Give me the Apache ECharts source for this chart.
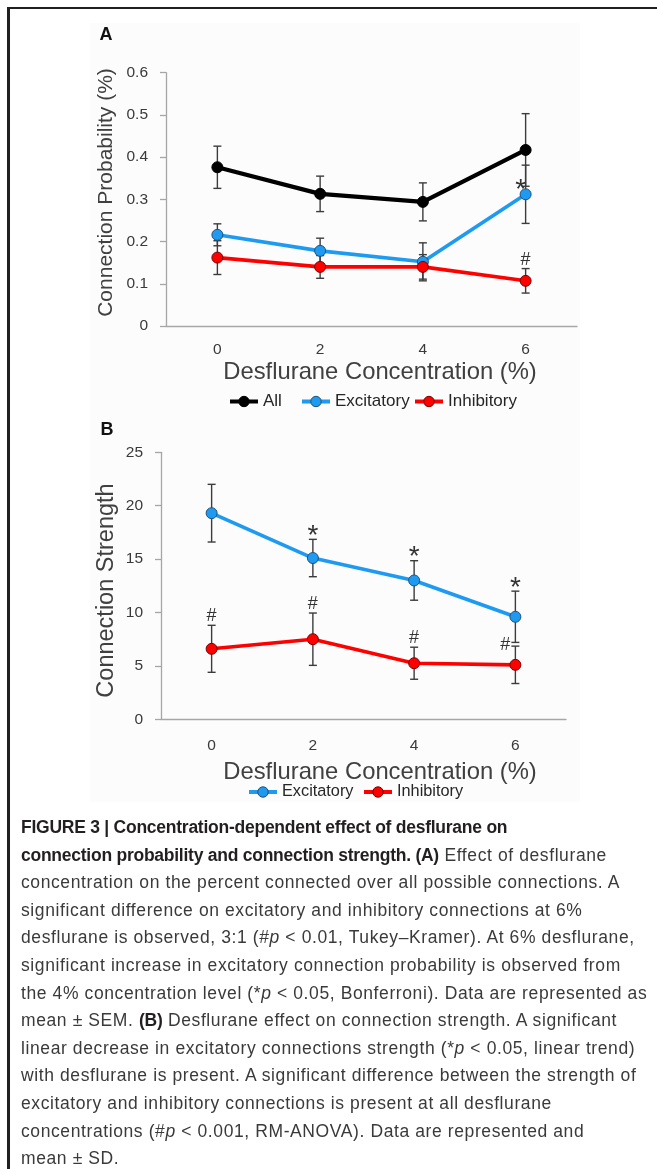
<!DOCTYPE html>
<html>
<head>
<meta charset="utf-8">
<script src="https://cdn.jsdelivr.net/npm/echarts@6/dist/echarts.min.js"></script>
<style>
html,body{margin:0;padding:0;background:#fff;}
#wrap{position:relative;width:657px;height:1172px;overflow:hidden;background:#fff;}
#panelBg{position:absolute;left:90px;top:23px;width:490px;height:779px;background:#fcfcfc;}
#chart{position:absolute;left:0;top:0;width:657px;height:820px;}
#frameTop{position:absolute;left:7px;top:6.7px;width:650px;height:2.4px;background:#231f20;}
#frameLeft{position:absolute;left:7.3px;top:6.7px;width:2.5px;height:1162px;background:#231f20;}
#caption{position:absolute;left:21px;top:814px;font-family:'Liberation Sans',Arial,sans-serif;font-size:17.5px;line-height:27.6px;color:#3a3a3a;white-space:nowrap;letter-spacing:0.6px;}
#caption b{color:#231f20;letter-spacing:-0.25px;}
</style>
</head>
<body>
<div id="wrap">
  <div id="panelBg"></div>
  <div id="chart"></div>
  <div id="frameTop"></div>
  <div id="frameLeft"></div>
  <div id="caption">
    <div><b>FIGURE 3 | Concentration-dependent effect of desflurane on</b></div>
    <div><b>connection probability and connection strength. (A)</b> Effect of desflurane</div>
    <div>concentration on the percent connected over all possible connections. A</div>
    <div>significant difference on excitatory and inhibitory connections at 6%</div>
    <div>desflurane is observed, 3:1 (#<i>p</i> &lt; 0.01, Tukey–Kramer). At 6% desflurane,</div>
    <div>significant increase in excitatory connection probability is observed from</div>
    <div>the 4% concentration level (*<i>p</i> &lt; 0.05, Bonferroni). Data are represented as</div>
    <div>mean ± SEM. <b>(B)</b> Desflurane effect on connection strength. A significant</div>
    <div>linear decrease in excitatory connections strength (*<i>p</i> &lt; 0.05, linear trend)</div>
    <div>with desflurane is present. A significant difference between the strength of</div>
    <div>excitatory and inhibitory connections is present at all desflurane</div>
    <div>concentrations (#<i>p</i> &lt; 0.001, RM-ANOVA). Data are represented and</div>
    <div>mean ± SD.</div>
  </div>
</div>
<script>
// ---- Data ----
const concentrations = ['0', '2', '4', '6'];

// Panel A: connection probability (%), mean and SEM
const probAll = [0.376, 0.313, 0.294, 0.417];
const probAllErr = [0.050, 0.042, 0.045, 0.086];
const probExc = [0.216, 0.178, 0.152, 0.312];
const probExcErr = [0.026, 0.030, 0.045, 0.069];
const probInh = [0.162, 0.140, 0.140, 0.107];
const probInhErr = [0.040, 0.027, 0.029, 0.029];
const probTicks = [0, 0.1, 0.2, 0.3, 0.4, 0.5, 0.6];

// Panel B: connection strength, mean and SD
const strExc = [19.3, 15.1, 13.0, 9.6];
const strExcErr = [2.7, 1.75, 1.85, 2.4];
const strInh = [6.6, 7.5, 5.25, 5.1];
const strInhErr = [2.2, 2.45, 1.5, 1.75];
const strTicks = [0, 5, 10, 15, 20, 25];

// Significance marks: [category, series, mark]
const marksA = [['6', 'Excitatory', '*'], ['6', 'Inhibitory', '#']];
const marksB = [['2', 'Excitatory', '*'], ['4', 'Excitatory', '*'], ['6', 'Excitatory', '*'],
                ['0', 'Inhibitory', '#'], ['2', 'Inhibitory', '#'], ['4', 'Inhibitory', '#'], ['6', 'Inhibitory', '#']];

// ---- Styling ----
const FONT = "'Liberation Sans', Arial, sans-serif";
const COLORS = { All: '#000000', Excitatory: '#1e9bf0', Inhibitory: '#ff0000' };
const BORDERS = { All: '#000000', Excitatory: '#22507a', Inhibitory: '#7a0000' };
const WIDTHS = { All: 4.2, Excitatory: 3.6, Inhibitory: 3.6 };

const chart = echarts.init(document.getElementById('chart'), null, { renderer: 'canvas' });

function errorSeries(gridIdx, means, errs) {
  return {
    type: 'custom', xAxisIndex: gridIdx, yAxisIndex: gridIdx, z: 1, silent: true,
    data: means.map((m, i) => [i, m - errs[i], m + errs[i]]),
    renderItem(params, api) {
      const lo = api.coord([api.value(0), api.value(1)]);
      const hi = api.coord([api.value(0), api.value(2)]);
      const cap = 4;
      const style = { stroke: '#3c3c3c', lineWidth: 1.4 };
      return { type: 'group', children: [
        { type: 'line', shape: { x1: hi[0], y1: hi[1], x2: lo[0], y2: lo[1] }, style },
        { type: 'line', shape: { x1: hi[0] - cap, y1: hi[1], x2: hi[0] + cap, y2: hi[1] }, style },
        { type: 'line', shape: { x1: lo[0] - cap, y1: lo[1], x2: lo[0] + cap, y2: lo[1] }, style }
      ]};
    }
  };
}

function lineSeries(name, gridIdx, values) {
  return {
    type: 'line', name, xAxisIndex: gridIdx, yAxisIndex: gridIdx, z: 3,
    data: values, symbol: 'circle', symbolSize: 11, showSymbol: true,
    lineStyle: { color: COLORS[name], width: WIDTHS[name] },
    itemStyle: { color: COLORS[name], borderColor: BORDERS[name], borderWidth: 1 },
    emphasis: { disabled: true }, animation: false
  };
}

function buildMarks(gridIdx, marks, lookup, place) {
  const data = marks.map(([cat, ser, mk]) => {
    const i = concentrations.indexOf(cat);
    const s = lookup[ser];
    return [i, s.m[i], s.m[i] + s.e[i], mk, ser];
  });
  return {
    type: 'custom', xAxisIndex: gridIdx, yAxisIndex: gridIdx, z: 4, silent: true,
    data,
    renderItem(params, api) {
      const d = data[params.dataIndex];
      const p = place(d);
      const anchor = api.coord([d[0], p.useMean ? d[1] : d[2]]);
      const isStar = d[3] === '*';
      return {
        type: 'text',
        x: anchor[0] + (p.dx || 0),
        y: anchor[1] + (p.dy || 0) + (isStar ? 6 : 0),
        style: {
          text: d[3], fontSize: isStar ? 28 : 18, fontFamily: FONT,
          fill: '#333333', align: 'center', verticalAlign: 'middle'
        }
      };
    }
  };
}

const lookupA = { Excitatory: { m: probExc, e: probExcErr }, Inhibitory: { m: probInh, e: probInhErr } };
const lookupB = { Excitatory: { m: strExc, e: strExcErr }, Inhibitory: { m: strInh, e: strInhErr } };

const placeA = d => d[3] === '*' ? { useMean: true, dx: -5, dy: -10 } : { dy: -9 };
const placeB = d => (d[3] === '#' && d[0] === 3) ? { dx: -10, dy: -1 } : { dy: -9 };

const axisLineStyle = { color: '#a6a6a6', width: 1.3 };
const tickLabel = { fontSize: 15.5, color: '#3a3a3a', fontFamily: FONT };

const legendBase = {
  orient: 'horizontal', itemWidth: 28, itemHeight: 13, itemGap: 0, padding: 0,
  selectedMode: false, textStyle: { fontSize: 17, color: '#262626', fontFamily: FONT },
  lineStyle: { width: 4 }, itemStyle: { borderWidth: 1 }
};

const option = {
  animation: false,
  backgroundColor: 'transparent',
  grid: [
    { left: 166, top: 72.7, width: 411, height: 253.3 },
    { left: 161, top: 452.3, width: 405, height: 267 }
  ],
  xAxis: [
    { type: 'category', gridIndex: 0, data: concentrations, boundaryGap: true,
      axisLine: { lineStyle: axisLineStyle }, axisTick: { show: false },
      axisLabel: { ...tickLabel, margin: 16 } },
    { type: 'category', gridIndex: 1, data: concentrations, boundaryGap: true,
      axisLine: { lineStyle: axisLineStyle }, axisTick: { show: false },
      axisLabel: { ...tickLabel, margin: 18 } }
  ],
  yAxis: [
    { type: 'value', gridIndex: 0, min: probTicks[0], max: probTicks[probTicks.length - 1], interval: 0.1,
      axisLine: { show: true, lineStyle: axisLineStyle },
      axisTick: { show: true, length: 6, lineStyle: axisLineStyle },
      splitLine: { show: false },
      axisLabel: { ...tickLabel, margin: 18, formatter: v => v === 0 ? '0' : v.toFixed(1) } },
    { type: 'value', gridIndex: 1, min: strTicks[0], max: strTicks[strTicks.length - 1], interval: 5,
      axisLine: { show: true, lineStyle: axisLineStyle },
      axisTick: { show: true, length: 6, lineStyle: axisLineStyle },
      splitLine: { show: false },
      axisLabel: { ...tickLabel, margin: 18 } }
  ],
  legend: [
    { ...legendBase, data: ['All'], left: 228, top: 393 },
    { ...legendBase, data: ['Excitatory'], left: 300, top: 393 },
    { ...legendBase, data: ['Inhibitory'], left: 413, top: 393 },
    { ...legendBase, data: ['Excitatory'], left: 247, top: 784, textStyle: { ...legendBase.textStyle, fontSize: 16.3 } },
    { ...legendBase, data: ['Inhibitory'], left: 362, top: 784, textStyle: { ...legendBase.textStyle, fontSize: 16.3 } }
  ],
  graphic: [
    { type: 'text', x: 106, y: 35, style: { text: 'A', fontSize: 18, fontWeight: 'bold', fontFamily: FONT, fill: '#111', align: 'center', verticalAlign: 'middle' } },
    { type: 'text', x: 107, y: 430, style: { text: 'B', fontSize: 18, fontWeight: 'bold', fontFamily: FONT, fill: '#111', align: 'center', verticalAlign: 'middle' } },
    { type: 'text', x: 106.5, y: 192.5, rotation: Math.PI / 2, style: { text: 'Connection Probability (%)', fontSize: 21, fontFamily: FONT, fill: '#404040', align: 'center', verticalAlign: 'middle' } },
    { type: 'text', x: 106.7, y: 590.5, rotation: Math.PI / 2, style: { text: 'Connection Strength', fontSize: 23.5, fontFamily: FONT, fill: '#404040', align: 'center', verticalAlign: 'middle' } },
    { type: 'text', x: 380, y: 372, style: { text: 'Desflurane Concentration (%)', fontSize: 23.8, fontFamily: FONT, fill: '#404040', align: 'center', verticalAlign: 'middle' } },
    { type: 'text', x: 380, y: 772, style: { text: 'Desflurane Concentration (%)', fontSize: 23.8, fontFamily: FONT, fill: '#404040', align: 'center', verticalAlign: 'middle' } }
  ],
  series: [
    errorSeries(0, probAll, probAllErr),
    errorSeries(0, probExc, probExcErr),
    errorSeries(0, probInh, probInhErr),
    lineSeries('All', 0, probAll),
    lineSeries('Excitatory', 0, probExc),
    lineSeries('Inhibitory', 0, probInh),
    errorSeries(1, strExc, strExcErr),
    errorSeries(1, strInh, strInhErr),
    lineSeries('Excitatory', 1, strExc),
    lineSeries('Inhibitory', 1, strInh),
    buildMarks(0, marksA, lookupA, placeA),
    buildMarks(1, marksB, lookupB, placeB)
  ]
};
chart.setOption(option);
</script>
</body>
</html>
